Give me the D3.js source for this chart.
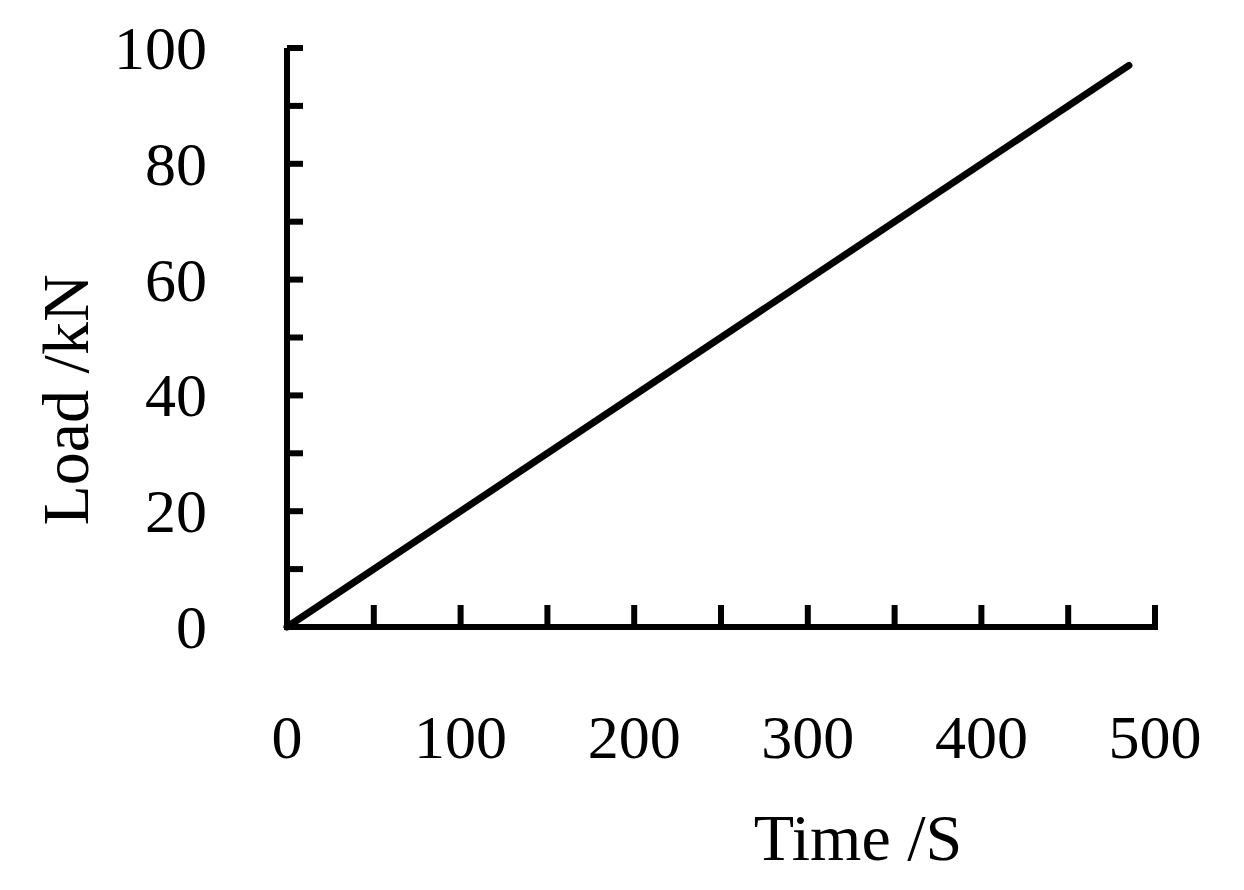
<!DOCTYPE html>
<html><head><meta charset="utf-8">
<script src="https://cdn.jsdelivr.net/npm/d3@7"></script>
<style>body{margin:0;background:#fff}</style></head>
<body><svg id="c"></svg>
<script>
const timeS = [0, 485];
const loadKN = [0, 97];
const xTicks = [0, 100, 200, 300, 400, 500];
const yTicks = [0, 20, 40, 60, 80, 100];

const W = 1244, H = 890;
const svg = d3.select("#c").attr("width", W).attr("height", H);
const x = d3.scaleLinear().domain([0, 500]).range([287, 1155]);
const y = d3.scaleLinear().domain([0, 100]).range([627, 48]);
const font = "'Liberation Serif', 'Times New Roman', serif";

// axes lines
svg.append("line").attr("x1", x(0)).attr("x2", x(0)).attr("y1", y(0)).attr("y2", y(100))
  .attr("stroke", "#000").attr("stroke-width", 6);
svg.append("line").attr("x1", x(0) - 3).attr("x2", x(500) + 3).attr("y1", y(0)).attr("y2", y(0))
  .attr("stroke", "#000").attr("stroke-width", 6);

// minor+major ticks
svg.selectAll(".yt").data(d3.range(10, 101, 10)).enter().append("line")
  .attr("x1", x(0)).attr("x2", x(0) + 16).attr("y1", d => y(d)).attr("y2", d => y(d))
  .attr("stroke", "#000").attr("stroke-width", 6);
svg.selectAll(".xt").data(d3.range(50, 501, 50)).enter().append("line")
  .attr("x1", d => x(d)).attr("x2", d => x(d)).attr("y1", y(0)).attr("y2", y(0) - 22)
  .attr("stroke", "#000").attr("stroke-width", 6);

svg.selectAll(".yl").data(yTicks).enter().append("text")
  .attr("x", 207).attr("y", d => y(d) + 21).attr("text-anchor", "end")
  .attr("font-family", font).attr("font-size", 62).text(d => d);
svg.selectAll(".xl").data(xTicks).enter().append("text")
  .attr("x", d => x(d)).attr("y", 758).attr("text-anchor", "middle")
  .attr("font-family", font).attr("font-size", 62).text(d => d);

svg.append("text").attr("x", 858).attr("y", 860).attr("text-anchor", "middle")
  .attr("font-family", font).attr("font-size", 66).text("Time /S");
svg.append("text").attr("transform", "translate(88,400) rotate(-90)").attr("text-anchor", "middle")
  .attr("font-family", font).attr("font-size", 66).text("Load /kN");

svg.append("path").datum(timeS.map((t, i) => [t, loadKN[i]]))
  .attr("d", d3.line().x(d => x(d[0])).y(d => y(d[1])))
  .attr("fill", "none").attr("stroke", "#000").attr("stroke-width", 7).attr("stroke-linecap", "round");
</script></body></html>
